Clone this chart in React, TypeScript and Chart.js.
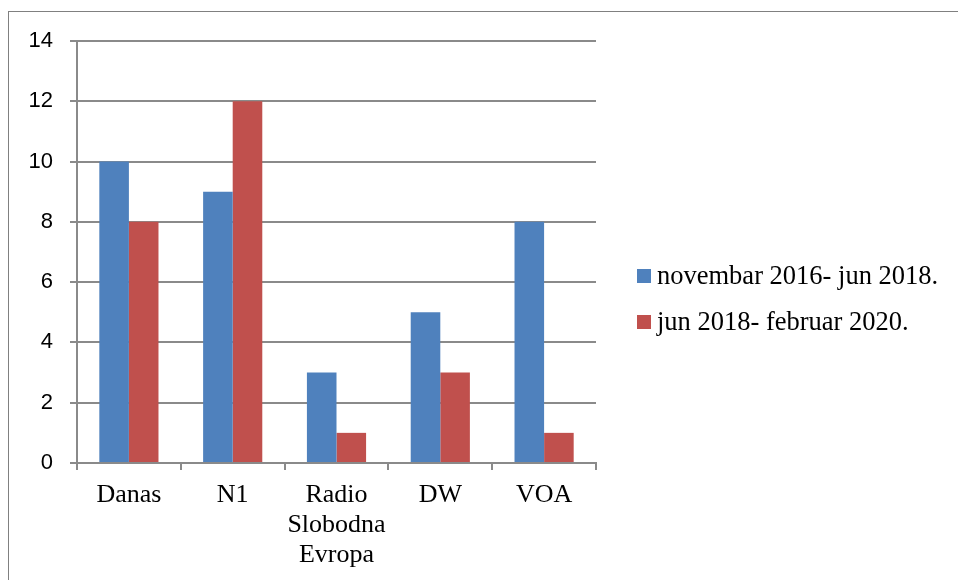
import React, { useEffect, useRef } from "react";
import { Chart, registerables } from "chart.js";

Chart.register(...registerables);

const categories: (string | string[])[] = ["Danas", "N1", ["Radio", "Slobodna", "Evropa"], "DW", "VOA"];
const series1Label = "novembar 2016- jun 2018.";
const series2Label = "jun 2018- februar 2020.";
const series1Values = [10, 9, 3, 5, 8];
const series2Values = [8, 12, 1, 3, 1];
const yMin = 0;
const yMax = 14;
const yStep = 2;

const sideLegend = {
  id: "sideLegend",
  afterDraw(chart: any) {
    const ctx = chart.ctx;
    ctx.save();
    ctx.font = '26.5px "Liberation Serif"';
    ctx.textBaseline = "middle";
    ctx.textAlign = "left";
    chart.data.datasets.forEach((ds: any, i: number) => {
      const y = 276 + i * 46;
      ctx.fillStyle = ds.backgroundColor;
      ctx.fillRect(637, y - 7, 14, 14);
      ctx.fillStyle = "#000";
      ctx.fillText(ds.label, 657, y + 1);
    });
    ctx.restore();
  },
};

export default function App() {
  const ref = useRef<HTMLCanvasElement>(null);
  useEffect(() => {
    if (!ref.current) return;
    const chart = new Chart(ref.current, {
      type: "bar",
      data: {
        labels: categories,
        datasets: [
          { label: series1Label, data: series1Values, backgroundColor: "#4F81BD", categoryPercentage: 0.57, barPercentage: 1 },
          { label: series2Label, data: series2Values, backgroundColor: "#C0504D", categoryPercentage: 0.57, barPercentage: 1 },
        ],
      },
      options: {
        animation: false,
        responsive: false,
        devicePixelRatio: 1,
        layout: { padding: { left: 0, top: 41, right: 362, bottom: 0 } },
        plugins: { legend: { display: false }, tooltip: { enabled: false } },
        scales: {
          x: {
            afterFit: (s: any) => { s.height = 117; },
            grid: { offset: true, drawOnChartArea: false, drawTicks: true, tickLength: 7, color: "#8a8a8a", lineWidth: 2 },
            border: { display: true, color: "#8a8a8a", width: 2 },
            ticks: { color: "#000", padding: 10, maxRotation: 0, font: { family: "Liberation Serif", size: 26, lineHeight: 1.15 } },
          },
          y: {
            min: yMin,
            max: yMax,
            afterFit: (s: any) => { s.width = 77; },
            grid: { drawTicks: true, tickLength: 7, color: "#8a8a8a", lineWidth: 2 },
            border: { display: true, color: "#8a8a8a", width: 2 },
            ticks: { stepSize: yStep, color: "#000", padding: 17, font: { family: "Liberation Sans", size: 22 } },
          },
        },
      },
      plugins: [sideLegend],
    });
    return () => chart.destroy();
  }, []);
  return (
    <div style={{ position: "absolute", left: 0, top: 0, width: 958, height: 580, overflow: "hidden", background: "#fff" }}>
      <div style={{ position: "absolute", left: 8, top: 11, width: 1000, height: 1000, borderLeft: "1px solid #808080", borderTop: "1px solid #808080" }} />
      <canvas ref={ref} width={958} height={580} style={{ position: "absolute", left: 0, top: 0 }} />
    </div>
  );
}
